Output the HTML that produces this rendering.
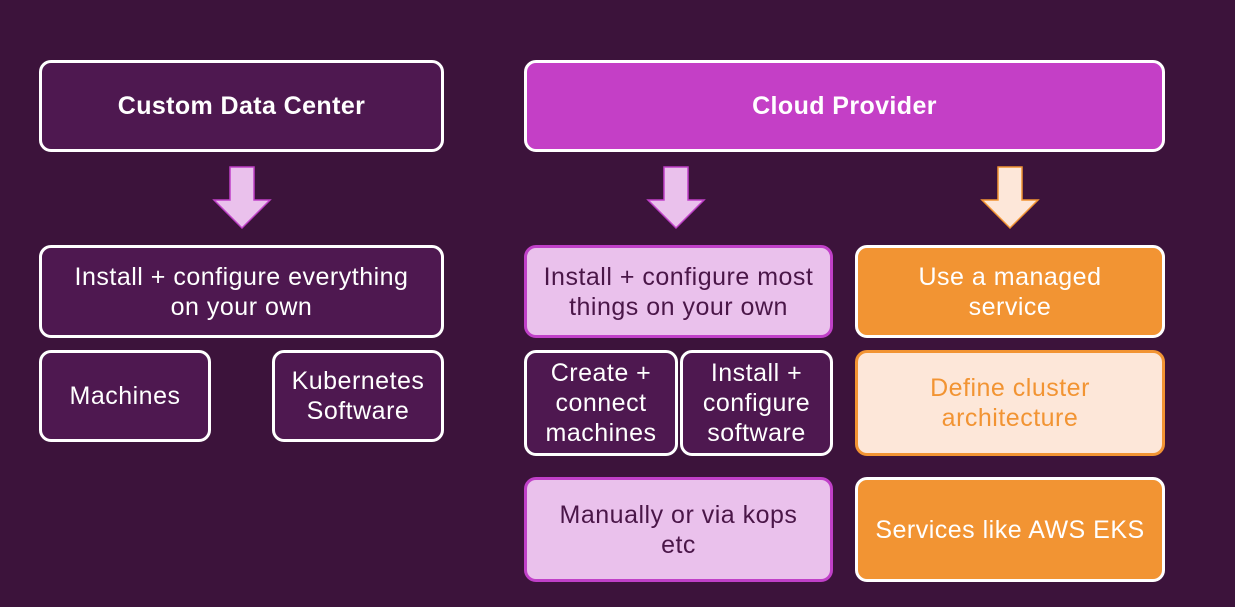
<!DOCTYPE html>
<html><head><style>
body{margin:0;width:1235px;height:607px;background:#3c133b;position:relative;overflow:hidden;font-family:"Liberation Sans",sans-serif}
.b{position:absolute;box-sizing:border-box;border:3px solid #fff;border-radius:12px;display:flex;align-items:center;justify-content:center;text-align:center;color:#fff;font-size:25px;letter-spacing:0.5px;line-height:30px}
.d{background:#4e1850}
.p{background:#eac1ec;border-color:#c040c8;color:#4a1648}
.o{background:#f29433}
.c{background:#fde7d9;border-color:#f29433;color:#f29433}
</style></head><body>
<div class="b d" style="left:39px;top:60px;width:405px;height:92px;font-weight:bold;font-size:25px;letter-spacing:0.4px">Custom Data Center</div>
<div class="b" style="left:524px;top:60px;width:641px;height:92px;background:#c43fc6;font-weight:bold;font-size:25px;letter-spacing:0.4px">Cloud Provider</div>
<svg style="position:absolute;left:0;top:0" width="1235" height="607">
<polygon points="230,167 254,167 254,200 270,200 242,228 214,200 230,200" fill="#eac1ec" stroke="#c040c8" stroke-width="1.5"/>
<polygon points="664,167 688,167 688,200 704,200 676,228 648,200 664,200" fill="#eac1ec" stroke="#c040c8" stroke-width="1.5"/>
<polygon points="998,167 1022,167 1022,200 1038,200 1010,228 982,200 998,200" fill="#fde7d9" stroke="#f29433" stroke-width="1.5"/>
</svg>
<div class="b d" style="left:39px;top:245px;width:405px;height:93px">Install + configure everything<br>on your own</div>
<div class="b d" style="left:39px;top:350px;width:172px;height:92px">Machines</div>
<div class="b d" style="left:272px;top:350px;width:172px;height:92px">Kubernetes<br>Software</div>
<div class="b p" style="left:524px;top:245px;width:309px;height:93px">Install + configure most<br>things on your own</div>
<div class="b d" style="left:524px;top:350px;width:154px;height:106px">Create +<br>connect<br>machines</div>
<div class="b d" style="left:680px;top:350px;width:153px;height:106px">Install +<br>configure<br>software</div>
<div class="b p" style="left:524px;top:477px;width:309px;height:105px">Manually or via kops<br>etc</div>
<div class="b o" style="left:855px;top:245px;width:310px;height:93px">Use a managed<br>service</div>
<div class="b c" style="left:855px;top:350px;width:310px;height:106px">Define cluster<br>architecture</div>
<div class="b o" style="left:855px;top:477px;width:310px;height:105px">Services like AWS EKS</div>
</body></html>
